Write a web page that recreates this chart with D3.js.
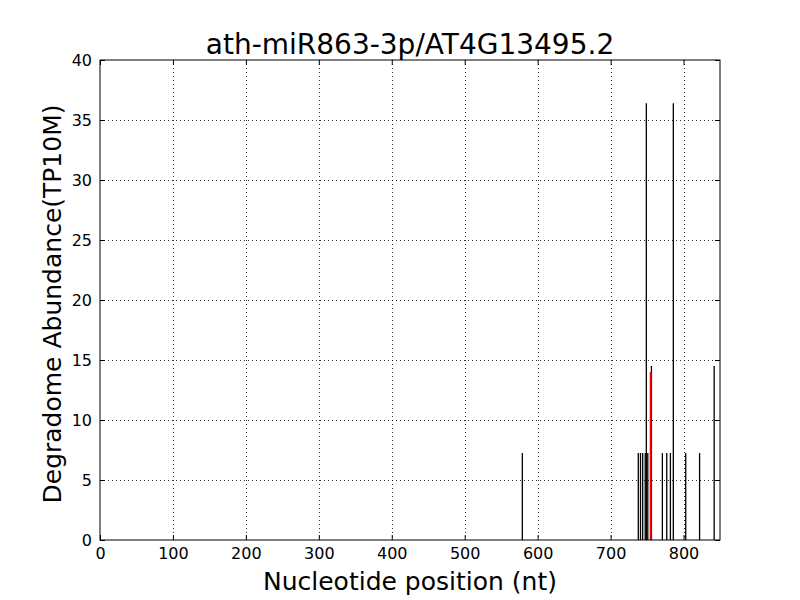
<!DOCTYPE html>
<html>
<head>
<meta charset="utf-8">
<script src="https://cdn.jsdelivr.net/npm/d3@7"></script>
<style>
  body { margin: 0; background: #fff; }
  text { font-family: "DejaVu Sans", sans-serif; }
</style>
</head>
<body>
<svg id="chart" width="800" height="600"></svg>
<script>
// degradome reads (position in nt, abundance TP10M)
const positions = [579, 738, 741, 744, 747.5, 749, 751, 756, 771, 777, 782, 786, 803, 822, 842];
const abundance = [7.25, 7.25, 7.25, 7.25, 7.25, 36.4, 7.25, 14.5, 7.25, 7.25, 7.25, 36.4, 7.25, 7.25, 14.5];
// the miRNA cleavage site
const sitePos = [755];
const siteVal = [14];
const xTicks = [0, 100, 200, 300, 400, 500, 600, 700, 800];
const yTicks = [0, 5, 10, 15, 20, 25, 30, 35, 40];

const svg = d3.select("#chart");
const mLeft = 100, mRight = 720, mTop = 60, mBottom = 540;

const x = d3.scaleLinear().domain([0, 850]).range([mLeft, mRight]);
const y = d3.scaleLinear().domain([0, 40]).range([mBottom, mTop]);

svg.append("rect")
    .attr("width", 800).attr("height", 600).attr("fill", "#fff");

// dotted grid
const grid = svg.append("g")
    .attr("stroke", "#000")
    .attr("stroke-width", 0.8)
    .attr("stroke-dasharray", "1,3");
grid.selectAll(".gx")
  .data(xTicks.slice(1))
  .join("line")
    .attr("x1", d => Math.round(x(d)) + 0.5).attr("x2", d => Math.round(x(d)) + 0.5)
    .attr("y1", mTop).attr("y2", mBottom);
grid.selectAll(".gy")
  .data(yTicks.slice(1, -1))
  .join("line")
    .attr("x1", mLeft).attr("x2", mRight)
    .attr("y1", d => Math.round(y(d)) + 0.5).attr("y2", d => Math.round(y(d)) + 0.5);

// bars as thin vertical lines
svg.append("g")
  .selectAll("line")
  .data(positions)
  .join("line")
    .attr("x1", d => x(d)).attr("x2", d => x(d))
    .attr("y1", y(0))
    .attr("y2", (d, i) => y(abundance[i]))
    .attr("stroke", "#000")
    .attr("stroke-width", 1.3);

svg.append("g")
  .selectAll("line")
  .data(sitePos)
  .join("line")
    .attr("x1", d => x(d)).attr("x2", d => x(d))
    .attr("y1", y(0))
    .attr("y2", (d, i) => y(siteVal[i]))
    .attr("stroke", "#ff0000")
    .attr("stroke-width", 2);

// axes, ticks pointing inward on all four sides
const tickLen = 5;
const fmt = d3.format("d");
const xb = svg.append("g").attr("transform", `translate(0,${mBottom})`)
    .call(d3.axisBottom(x).tickValues(xTicks).tickSize(-tickLen).tickPadding(8).tickFormat(fmt));
const xt = svg.append("g").attr("transform", `translate(0,${mTop})`)
    .call(d3.axisTop(x).tickValues(xTicks).tickSize(-tickLen).tickFormat(""));
const yl = svg.append("g").attr("transform", `translate(${mLeft},0)`)
    .call(d3.axisLeft(y).tickValues(yTicks).tickSize(-tickLen).tickPadding(8).tickFormat(fmt));
const yr = svg.append("g").attr("transform", `translate(${mRight},0)`)
    .call(d3.axisRight(y).tickValues(yTicks).tickSize(-tickLen).tickFormat(""));
[xb, xt, yl, yr].forEach(g => {
  g.select(".domain").remove();
  g.selectAll("line").attr("stroke", "#000");
  g.selectAll("text").attr("font-size", 16).attr("fill", "#000")
    .attr("font-family", "DejaVu Sans, sans-serif");
});

svg.append("rect")
    .attr("x", mLeft).attr("y", mTop)
    .attr("width", mRight - mLeft).attr("height", mBottom - mTop)
    .attr("fill", "none").attr("stroke", "#000").attr("stroke-width", 1);

svg.append("text")
    .attr("x", (mLeft + mRight) / 2).attr("y", 54)
    .attr("text-anchor", "middle")
    .attr("font-size", 28)
    .text("ath-miR863-3p/AT4G13495.2");

svg.append("text")
    .attr("x", (mLeft + mRight) / 2).attr("y", 590)
    .attr("text-anchor", "middle")
    .attr("font-size", 25)
    .text("Nucleotide position (nt)");

svg.append("text")
    .attr("transform", `translate(61,${(mTop + mBottom) / 2 + 4}) rotate(-90)`)
    .attr("text-anchor", "middle")
    .attr("font-size", 25)
    .text("Degradome Abundance(TP10M)");
</script>
</body>
</html>
